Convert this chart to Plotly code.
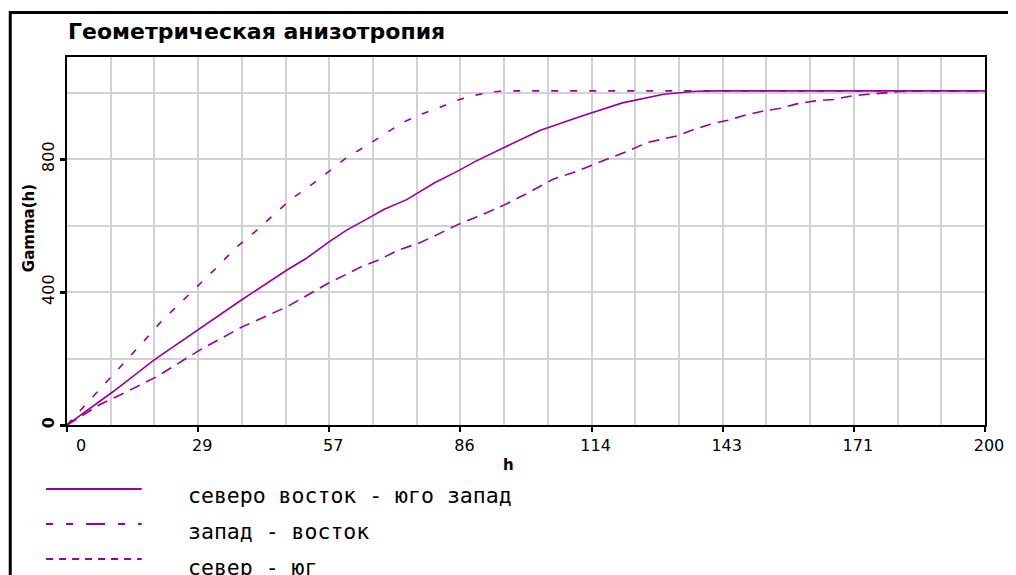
import numpy as np
import plotly.graph_objects as go

# ---- data ----
h_ne = [0, 10, 19, 29, 38, 48, 52, 57, 61, 65, 69, 74, 77, 80, 85, 89, 95, 103, 112, 121, 130, 137, 142, 200]
g_ne = [0, 100, 196, 291, 376, 467, 500, 550, 587, 617, 648, 678, 703, 728, 763, 793, 833, 886, 929, 969, 995, 1004, 1005, 1005]

h_we = [0, 7, 13, 19.5, 29, 38, 48, 57, 64, 68, 72, 77, 81, 85, 90, 95, 100, 106, 110, 114, 118.5, 122,
        126.5, 133, 136.6, 140, 144, 147.5, 151.5, 155.5, 159, 163, 167, 170.6, 174, 178, 181.5, 186, 200]
g_we = [0, 60, 100, 145, 226, 294, 356, 427, 475, 497, 525, 549, 575, 602, 630, 660, 695, 740, 758, 780, 803, 823,
        850, 870, 889, 904, 917, 931, 944, 953, 966, 975, 979, 989, 994, 999, 1003, 1005, 1005]

h_ns = [0, 5, 9, 12.6, 17, 20.5, 25, 29, 33, 36.6, 41, 45, 48.7, 53, 57, 61, 65, 69, 73, 77, 81, 85, 88.5, 92.5, 96, 200]
g_ns = [0, 75, 135, 191, 256, 311, 371, 427, 479, 531, 582, 632, 678, 720, 763, 805, 838, 873, 909, 934, 954, 977,
        991, 1002, 1005, 1005]

series_names = ["северо восток - юго запад", "запад - восток", "север - юг"]
x_tick_labels = ["\u2007\u20070", "29", "57", "86", "114", "143", "171", "200"]
y_tick_vals = [0, 400, 800]
y_tick_labels = ["<b>0</b>", "400", "800"]
y_minor_vals = [200, 600, 1000]

title_text = "Геометрическая анизотропия"
x_title = "h"
y_title = "Gamma(h)"

# ---- layout geometry (window pixels; page body has an 8px margin) ----
OFF = 8
VW, VH = 1016, 575
W, H = VW - OFF, VH - OFF
PLOT_L, PLOT_R, PLOT_T, PLOT_B = 67, 989, 57, 425
L, R, T, B = PLOT_L - OFF, VW - PLOT_R, PLOT_T - OFF, VH - PLOT_B
PW, PH = PLOT_R - PLOT_L, PLOT_B - PLOT_T


def px(x):
    return (x - PLOT_L) / PW


def py(y):
    return (PLOT_B - y) / PH


COLOR = "#990099"
GRID = "#d2d2d2"

fig = go.Figure()
fig.add_trace(go.Scatter(x=h_ne, y=g_ne, mode="lines", name=series_names[0],
                         line=dict(color=COLOR, width=1.6)))
fig.add_trace(go.Scatter(x=h_we, y=g_we, mode="lines", name=series_names[1],
                         line=dict(color=COLOR, width=1.6, dash="11px,7px")))
fig.add_trace(go.Scatter(x=h_ns, y=g_ns, mode="lines", name=series_names[2],
                         line=dict(color=COLOR, width=1.6, dash="7px,12px")))

x_ticks = list(np.linspace(0, 200, 8))
x_minor = list(np.linspace(0, 200, 22))

fig.update_layout(
    width=W, height=H,
    margin=dict(l=L, r=R, t=T, b=B, pad=0),
    paper_bgcolor="white", plot_bgcolor="white",
    showlegend=False,
    font=dict(family="DejaVu Sans", color="black"),
    xaxis=dict(range=[0, 200], tickvals=x_ticks, ticktext=x_tick_labels,
               tickfont=dict(family="DejaVu Sans", size=16, color="black"),
               ticks="outside", ticklen=5, tickwidth=2, tickcolor="black",
               showline=True, linecolor="black", linewidth=2, mirror=True,
               showgrid=True, gridcolor=GRID, gridwidth=2, zeroline=False,
               ticklabelshift=4,
               minor=dict(tickvals=x_minor, showgrid=True, gridcolor=GRID, gridwidth=2, ticks="")),
    yaxis=dict(range=[0, 1107], tickvals=y_tick_vals, ticktext=y_tick_labels, tickangle=-90,
               tickfont=dict(family="DejaVu Sans", size=16, color="black"),
               ticks="outside", ticklen=5, tickwidth=3, tickcolor="black",
               showline=True, linecolor="black", linewidth=2, mirror=True,
               showgrid=True, gridcolor=GRID, gridwidth=2, zeroline=False,
               minor=dict(tickvals=y_minor_vals, showgrid=True, gridcolor=GRID, gridwidth=2, ticks="")),
)

shapes = []
# outer frame (cut by the window edge on the right and bottom)
shapes.append(dict(type="rect", xref="paper", yref="paper",
                   x0=px(10), x1=px(1040), y0=py(12.5), y1=py(620),
                   line=dict(color="black", width=3), fillcolor="rgba(0,0,0,0)", layer="above"))
# legend samples
legend_rows = [489, 524, 559]
legend_dash = ["solid", "7px,13px,7px,13px,19px,13px,7px,13px,7px,40px", "7px,6px"]
for yy, d in zip(legend_rows, legend_dash):
    shapes.append(dict(type="line", xref="paper", yref="paper",
                       x0=px(46), x1=px(142), y0=py(yy), y1=py(yy),
                       line=dict(color=COLOR, width=2, dash=d)))
fig.update_layout(shapes=shapes)

ann = []
ann.append(dict(text="<b>" + title_text + "</b>", xref="paper", yref="paper", x=px(66), y=py(31),
                xanchor="left", yanchor="middle", showarrow=False,
                font=dict(family="DejaVu Sans", size=22, color="black")))
ann.append(dict(text="<b>" + x_title + "</b>", xref="paper", yref="paper", x=px(510), y=py(465),
                xanchor="center", yanchor="middle", showarrow=False,
                font=dict(family="DejaVu Sans", size=15, color="black")))
ann.append(dict(text="<b>" + y_title + "</b>", xref="paper", yref="paper", x=px(29), y=py(228),
                xanchor="center", yanchor="middle", showarrow=False, textangle=-90,
                font=dict(family="DejaVu Sans", size=15, color="black")))
legend_text_y = [496, 531, 567]
for name, yy in zip(series_names, legend_text_y):
    ann.append(dict(text=name, xref="paper", yref="paper", x=px(187), y=py(yy),
                    xanchor="left", yanchor="middle", showarrow=False,
                    font=dict(family="DejaVu Sans Mono", size=21.5, color="black")))
fig.update_layout(annotations=ann)

fig.write_html("out.html")
